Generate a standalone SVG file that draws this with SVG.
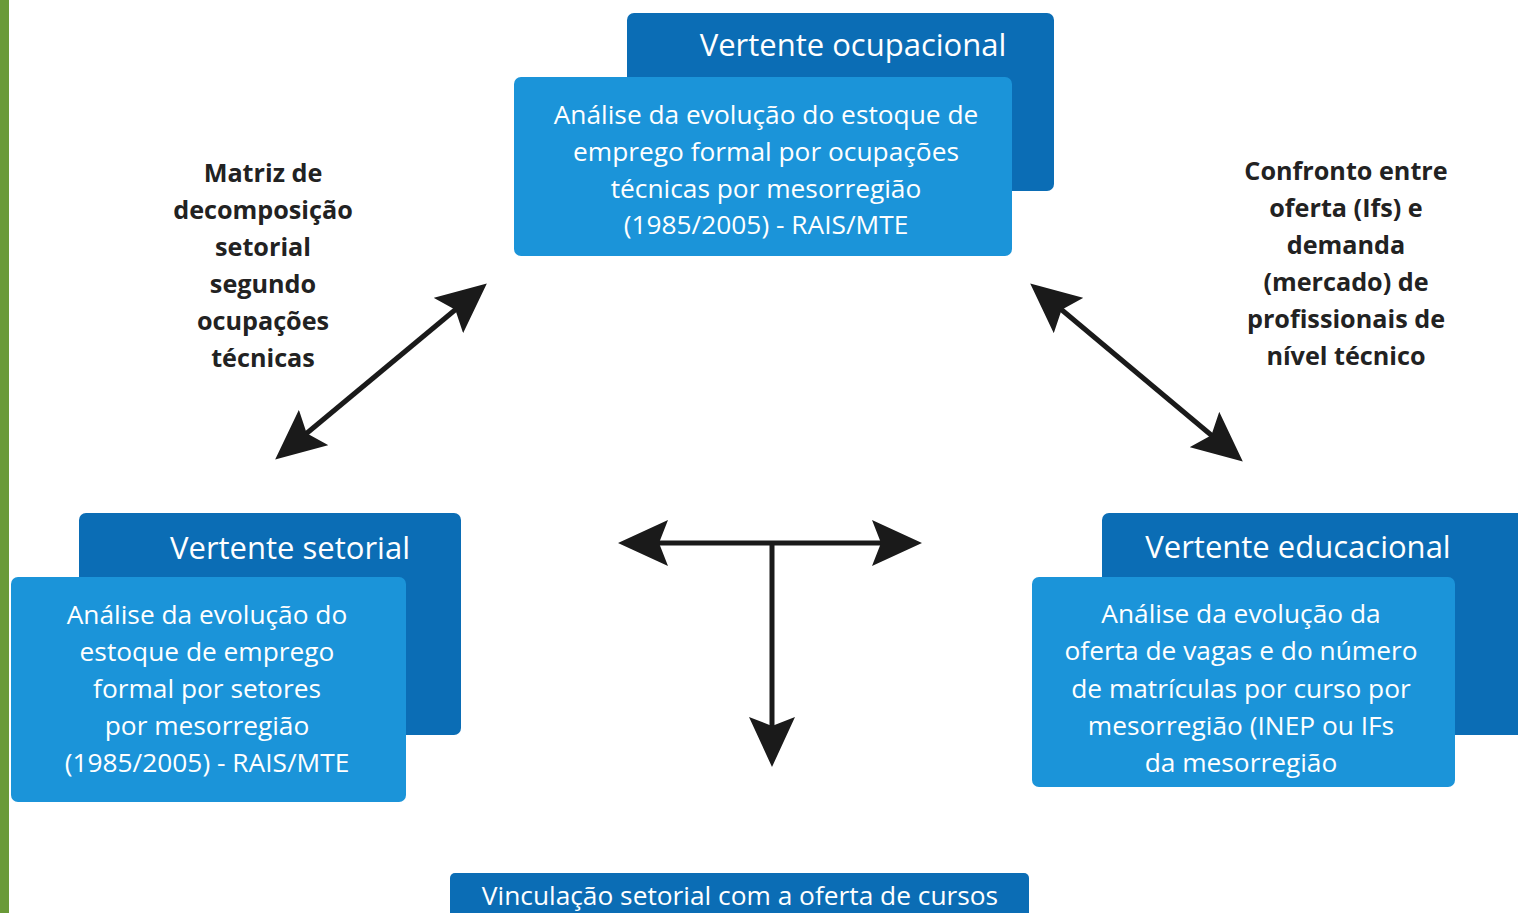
<svg xmlns="http://www.w3.org/2000/svg" width="1518" height="913" viewBox="0 0 1518 913">
<style>
.dark{fill:#0b6db5}
.light{fill:#1b94d9}
.title{font-family:"Open Sans","Liberation Sans",sans-serif;font-size:31px;fill:#ffffff;text-anchor:middle}
.body{font-family:"Open Sans","Liberation Sans",sans-serif;font-size:26.3px;fill:#ffffff;text-anchor:middle}
.lbl{font-family:"Open Sans","Liberation Sans",sans-serif;font-size:25.2px;font-weight:bold;fill:#222222;text-anchor:middle}
.conn{stroke:#1a1a1a;stroke-width:5;fill:none}
</style>
<defs>
<marker id="ah" viewBox="0 0 50 46" refX="32" refY="23" markerWidth="50" markerHeight="46" markerUnits="userSpaceOnUse" orient="auto-start-reverse">
<path d="M0,0 L50,23 L0,46 L9,23 Z" fill="#1a1a1a"/>
</marker>
</defs>
<rect x="0" y="0" width="1518" height="913" fill="#ffffff"/>
<rect x="0" y="0" width="9" height="913" fill="#6a9a38"/>

<g id="connectors">
<line class="conn" x1="289" y1="448" x2="473" y2="295" marker-start="url(#ah)" marker-end="url(#ah)"/>
<line class="conn" x1="1044" y1="295" x2="1229" y2="450" marker-start="url(#ah)" marker-end="url(#ah)"/>
<line class="conn" x1="636" y1="543" x2="904" y2="543" marker-start="url(#ah)" marker-end="url(#ah)"/>
<line class="conn" x1="772" y1="543" x2="772" y2="749" marker-end="url(#ah)"/>
</g>

<g id="node-ocupacional">
<rect class="dark" x="627" y="13" width="427" height="178" rx="7"/>
<text class="title" x="853" y="56">Vertente ocupacional</text>
<rect class="light" x="514" y="77" width="498" height="179" rx="7"/>
<text class="body" x="766" y="124">Análise da evolução do estoque de</text>
<text class="body" x="766" y="161">emprego formal por ocupações</text>
<text class="body" x="766" y="198">técnicas por mesorregião</text>
<text class="body" x="766" y="234">(1985/2005) - RAIS/MTE</text>
</g>

<g id="node-setorial">
<rect class="dark" x="79" y="513" width="382" height="222" rx="7"/>
<text class="title" x="290" y="559">Vertente setorial</text>
<rect class="light" x="11" y="577" width="395" height="225" rx="7"/>
<text class="body" x="207" y="624">Análise da evolução do</text>
<text class="body" x="207" y="661">estoque de emprego</text>
<text class="body" x="207" y="698">formal por setores</text>
<text class="body" x="207" y="735">por mesorregião</text>
<text class="body" x="207" y="772">(1985/2005) - RAIS/MTE</text>
</g>

<g id="node-educacional">
<rect class="dark" x="1102" y="513" width="426" height="222" rx="7"/>
<text class="title" x="1298" y="558">Vertente educacional</text>
<rect class="light" x="1032" y="577" width="423" height="210" rx="7"/>
<text class="body" x="1241" y="623">Análise da evolução da</text>
<text class="body" x="1241" y="660">oferta de vagas e do número</text>
<text class="body" x="1241" y="698">de matrículas por curso por</text>
<text class="body" x="1241" y="735">mesorregião (INEP ou IFs</text>
<text class="body" x="1241" y="772">da mesorregião</text>
</g>

<g id="node-vinculacao">
<rect class="dark" x="450" y="873" width="579" height="60" rx="5"/>
<text class="body" x="740" y="905">Vinculação setorial com a oferta de cursos</text>
</g>

<g id="label-matriz">
<text class="lbl" x="263" y="182">Matriz de</text>
<text class="lbl" x="263" y="219">decomposição</text>
<text class="lbl" x="263" y="256">setorial</text>
<text class="lbl" x="263" y="293">segundo</text>
<text class="lbl" x="263" y="330">ocupações</text>
<text class="lbl" x="263" y="367">técnicas</text>
</g>

<g id="label-confronto">
<text class="lbl" x="1346" y="180">Confronto entre</text>
<text class="lbl" x="1346" y="217">oferta (Ifs) e</text>
<text class="lbl" x="1346" y="254">demanda</text>
<text class="lbl" x="1346" y="291">(mercado) de</text>
<text class="lbl" x="1346" y="328">profissionais de</text>
<text class="lbl" x="1346" y="365">nível técnico</text>
</g>
</svg>
